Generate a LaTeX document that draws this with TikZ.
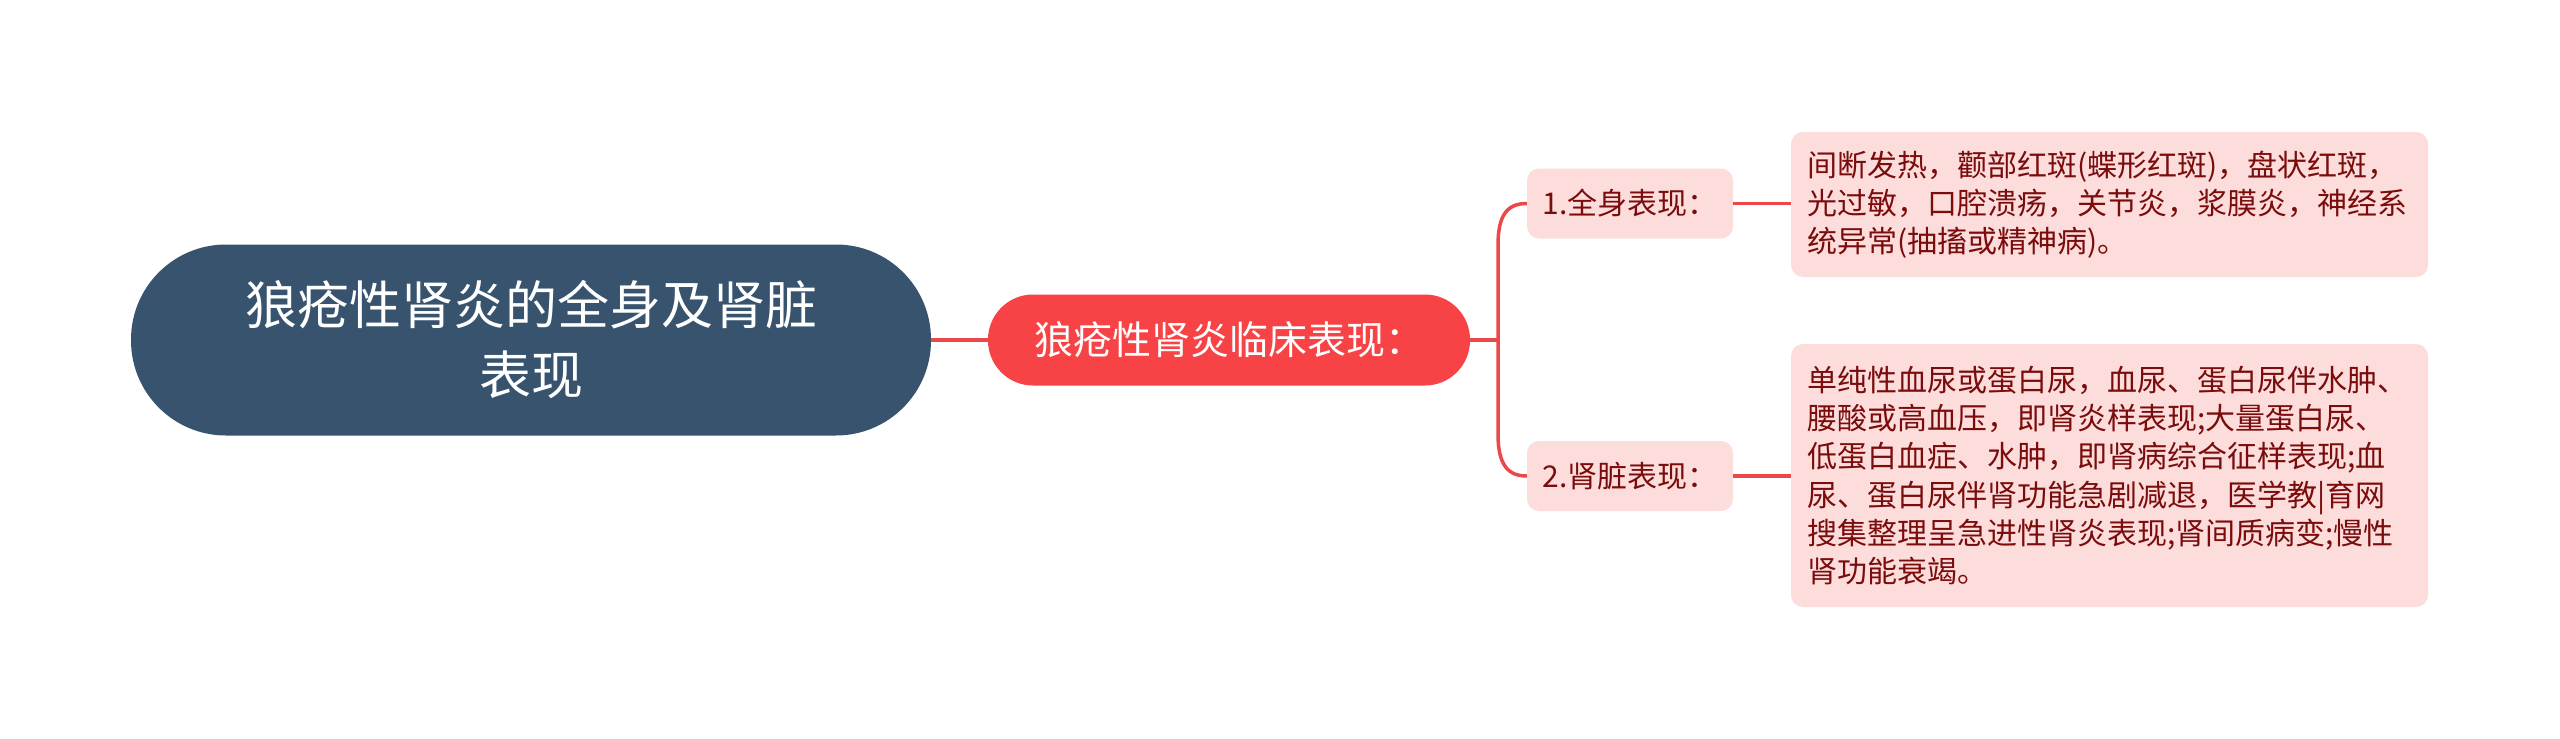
\documentclass[tikz,border=0pt]{standalone}
\usepackage{fontspec}
\setmainfont{Noto Sans CJK SC}
\definecolor{rootc}{HTML}{37536E}
\definecolor{midc}{HTML}{F74346}
\definecolor{pinkc}{HTML}{FDDCDC}
\definecolor{txtc}{HTML}{7A0C0C}
\definecolor{linec}{HTML}{EC4749}
\begin{document}
\begin{tikzpicture}[x=1pt,y=-1pt,
  rootbox/.style={fill=rootc, rounded corners=95pt, text=white, align=center, inner sep=0pt,
    minimum width=800pt, minimum height=191pt, font=\fontsize{52}{70}\selectfont},
  midbox/.style={fill=midc, rounded corners=45pt, text=white, align=center, inner sep=0pt,
    minimum width=482pt, minimum height=91pt, font=\fontsize{39}{46}\selectfont},
  subbox/.style={fill=pinkc, rounded corners=12pt, text=txtc, align=center, inner sep=0pt,
    minimum width=206pt, minimum height=70pt, font=\fontsize{30}{36}\selectfont},
  leafbox/.style={fill=pinkc, rounded corners=12pt, text=txtc, align=left, inner xsep=16pt, inner ysep=0pt,
    minimum width=637pt, text width=605pt, font=\fontsize{30}{38.3}\selectfont},
  conn/.style={draw=linec, line width=3.5pt}
]
\useasboundingbox (0,0) rectangle (2560,739);
\fill[white] (0,0) rectangle (2560,739);

\node[rootbox] (root) at (531,340) {狼疮性肾炎的全身及肾脏\\表现};
\node[midbox] (mid) at (1229,340) {狼疮性肾炎临床表现：};
\node[subbox] (s1) at (1630,203.5) {1.全身表现：};
\node[subbox] (s2) at (1630,476) {2.肾脏表现：};
\node[leafbox, minimum height=145pt] (l1) at (2109.5,204.5) {间断发热，颧部红斑(蝶形红斑)，盘状红斑，\\光过敏，口腔溃疡，关节炎，浆膜炎，神经系\\统异常(抽搐或精神病)。};
\node[leafbox, minimum height=263pt] (l2) at (2109.5,475.5) {单纯性血尿或蛋白尿，血尿、蛋白尿伴水肿、\\腰酸或高血压，即肾炎样表现;大量蛋白尿、\\低蛋白血症、水肿，即肾病综合征样表现;血\\尿、蛋白尿伴肾功能急剧减退，医学教|育网\\搜集整理呈急进性肾炎表现;肾间质病变;慢性\\肾功能衰竭。};

\coordinate (fork) at (1498,340);
\draw[conn] (root.east) -- (mid.west);
\draw[conn] (mid.east) -- (fork);
\draw[conn] (fork) -- (1498,245) .. controls (1498,214) and (1508,203.5) .. (s1.west);
\draw[conn] (fork) -- (1498,434) .. controls (1498,465) and (1508,476) .. (s2.west);
\draw[conn] (s1.east) -- (l1.west |- s1.east);
\draw[conn] (s2.east) -- (l2.west |- s2.east);
\end{tikzpicture}
\end{document}
